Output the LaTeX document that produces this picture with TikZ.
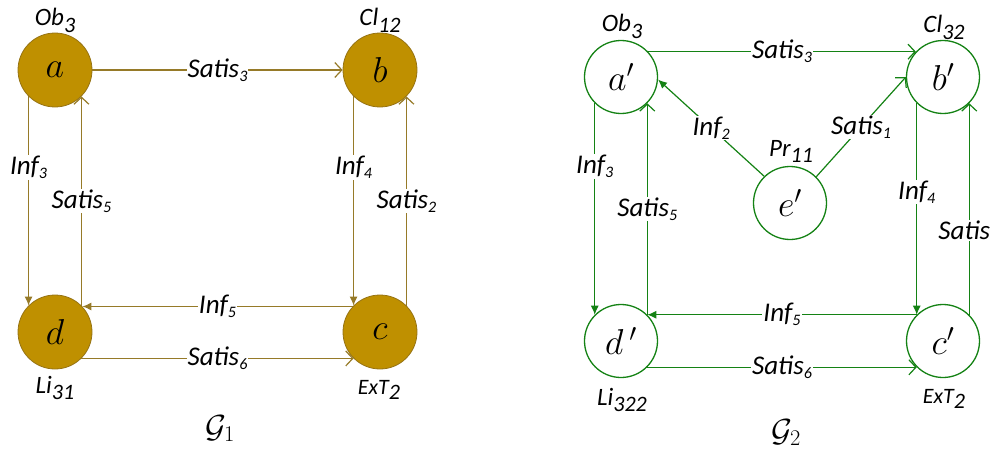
\documentclass[tikz,border=0pt]{standalone}
\usepackage{fix-cm}
\usepackage{fontspec}
\setmainfont{Carlito}
\usetikzlibrary{arrows.meta}
\definecolor{goldfill}{RGB}{191,144,0}
\definecolor{goldedge}{RGB}{150,115,20}
\definecolor{goldline}{RGB}{150,122,40}
\definecolor{grn}{RGB}{20,130,20}
\newcommand\esub[2]{#1\raisebox{-0.15em}{\fontsize{16}{16}\selectfont #2}}
\newcommand\nsub[2]{#1\raisebox{-0.25em}{\fontsize{22}{22}\selectfont #2}}
\begin{document}
\begin{tikzpicture}[x=1pt,y=-1pt,
  gnode/.style={circle, draw=goldedge, fill=goldfill, line width=0.8pt, minimum size=74pt, inner sep=0pt, font=\fontsize{36}{36}\selectfont},
  wnode/.style={circle, draw=grn, fill=white, line width=1.3pt, minimum size=73pt, inner sep=0pt, font=\fontsize{36}{36}\selectfont},
  elabel/.style={fill=white, inner sep=1pt, font=\fontsize{27}{27}\selectfont\itshape},
  tlabel/.style={anchor=base, inner sep=0pt, font=\fontsize{25}{25}\selectfont\itshape},
  slabel/.style={anchor=base, inner sep=0pt, font=\fontsize{22}{22}\selectfont\itshape},
  glabel/.style={anchor=base, inner sep=0pt, font=\fontsize{32}{32}\selectfont},
  gline/.style={draw=goldline, line width=1.2pt},
  wline/.style={draw=grn, line width=1.2pt},
  inf/.style={-{Latex[length=9pt,width=8pt]}},
  sat/.style={-{Straight Barb[length=7pt,width=15pt]}},
]
\useasboundingbox (0,0) rectangle (993,452);

% ---------- G1 ----------
\node[gnode] (a) at (55,70) {$a$};
\node[gnode] (b) at (380,70) {$b$};
\node[gnode] (d) at (55,332) {$d$};
\node[gnode] (c) at (380,332) {$c$};

\node[tlabel] (la) at (55,26) {\nsub{Ob}{3}};
\node[tlabel] (lb) at (380,26) {\nsub{Cl}{12}};
\node[tlabel] (ld) at (55,393) {\nsub{Li}{31}};
\node[slabel] (lc) at (379,394) {\nsub{ExT}{2}};
\node[glabel] (g1) at (220,437) {$\mathcal{G}_1$};

\draw[gline,sat] (a) -- node[elabel] {\esub{Satis}{3}} (b);
\draw[gline,inf] (a.-135) -- node[elabel,pos=0.34] {\esub{Inf}{3}} (d.135);
\draw[gline,sat] (d.45) -- node[elabel,pos=0.5] {\esub{Satis}{5}} (a.-45);
\draw[gline,inf] (b.-135) -- node[elabel,pos=0.34] {\esub{Inf}{4}} (c.135);
\draw[gline,sat] (c.45) -- node[elabel,pos=0.5] {\esub{Satis}{2}} (b.-45);
\draw[gline,inf] (c.137) -- node[elabel] {\esub{Inf}{5}} (d.43);
\draw[gline,sat] (d.-45) -- node[elabel] {\esub{Satis}{6}} (c.-135);

% ---------- G2 ----------
\node[wnode] (a2) at (621,77) {$a'$};
\node[wnode] (b2) at (943,77) {$b'$};
\node[wnode] (e2) at (790,203) {$e'$};
\node[wnode] (d2) at (621,341) {$d\,'$};
\node[wnode] (c2) at (943,341) {$c'$};

\node[tlabel] (la2) at (622,32) {\nsub{Ob}{3}};
\node[tlabel] (lb2) at (944,33) {\nsub{Cl}{32}};
\node[tlabel] (le2) at (791,156) {\nsub{Pr}{11}};
\node[tlabel] (ld2) at (622,405) {\nsub{Li}{322}};
\node[slabel] (lc2) at (944,403) {\nsub{ExT}{2}};
\node[glabel] (g2) at (786,441) {$\mathcal{G}_2$};

\draw[wline,sat] (a2.43) -- node[elabel] {\esub{Satis}{3}} (b2.137);
\draw[wline,inf] (e2.134) -- node[elabel] {\esub{Inf}{2}} (a2.-4);
\draw[wline,sat] (e2.45) -- node[elabel] {\esub{Satis}{1}} (b2.180);
\draw[wline,inf] (a2.-135) -- node[elabel,pos=0.3] {\esub{Inf}{3}} (d2.135);
\draw[wline,sat] (d2.45) -- node[elabel,pos=0.5] {\esub{Satis}{5}} (a2.-45);
\draw[wline,inf] (b2.-135) -- node[elabel,pos=0.42] {\esub{Inf}{4}} (c2.135);
\draw[wline,sat] (c2.45) -- node[elabel,pos=0.4,xshift=-5pt] {Satis} (b2.-45);
\draw[wline,inf] (c2.135) -- node[elabel] {\esub{Inf}{5}} (d2.45);
\draw[wline,sat] (d2.-45) -- node[elabel] {\esub{Satis}{6}} (c2.-135);
\end{tikzpicture}
\end{document}
